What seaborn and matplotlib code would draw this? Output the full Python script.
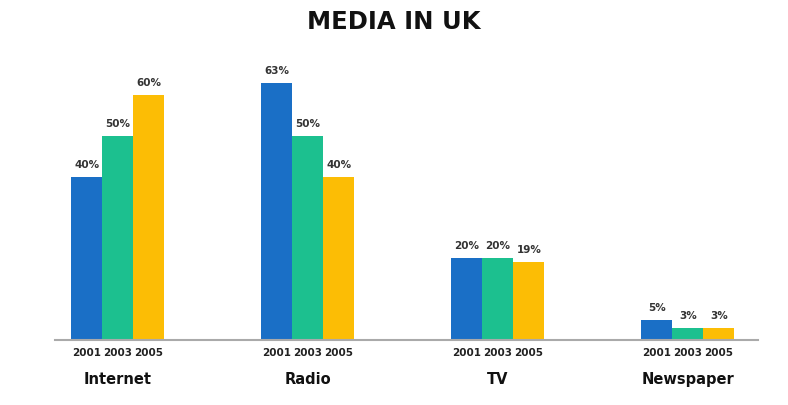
import numpy as np
import pandas as pd
import matplotlib
matplotlib.use("Agg")
import matplotlib.pyplot as plt
import seaborn as sns

media = ["Internet", "Radio", "TV", "Newspaper"]
years = ["2001", "2003", "2005"]
share_2001 = [40, 63, 20, 5]
share_2003 = [50, 50, 20, 3]
share_2005 = [60, 40, 19, 3]
colors = ["#1a6fc6", "#1cc08f", "#fcbd05"]

data = pd.DataFrame({
    "Media": media * 3,
    "Year": [y for y in years for _ in media],
    "Share": share_2001 + share_2003 + share_2005,
})

sns.set_style("white")
plt.rcParams["font.family"] = ["DejaVu Sans"]

fig = plt.figure(figsize=(7.88, 4.05), dpi=100)
ax = fig.add_axes([0.07, 0.1605, 0.892, 0.6915])

sns.barplot(data=data, x="Media", y="Share", hue="Year", order=media,
            hue_order=years, palette=colors, width=0.49, saturation=1,
            linewidth=0, legend=False, ax=ax)

for cont in ax.containers:
    ax.bar_label(cont, labels=[f"{v:.0f}%" for v in cont.datavalues],
                 padding=5, fontsize=7.5, fontweight="bold", color="#333333")

# year labels under each bar
for cont, yr in zip(ax.containers, years):
    for bar in cont:
        cx = bar.get_x() + bar.get_width() / 2
        ax.annotate(yr, xy=(cx, 0), xycoords=("data", "axes fraction"),
                    xytext=(0, -6), textcoords="offset points",
                    ha="center", va="top", fontsize=7.5, fontweight="bold",
                    color="#222222")

ax.set_xlim(-0.33, 3.37)
ax.set_ylim(0, 68.6)
ax.set_xticks(range(len(media)))
ax.set_xticklabels(media, fontsize=10.5, fontweight="bold", color="#111111")
ax.tick_params(axis="x", length=0, pad=23)
ax.set_yticks([])
ax.set_xlabel("")
ax.set_ylabel("")
for s in ["top", "right", "left"]:
    ax.spines[s].set_visible(False)
ax.spines["bottom"].set_color("#aaaaaa")
ax.spines["bottom"].set_linewidth(1.5)

fig.text(0.5, 0.945, "MEDIA IN UK", ha="center", va="center",
         fontsize=17.5, fontweight="bold", color="#111111")

fig.savefig("out.png", dpi=100, facecolor="white")
